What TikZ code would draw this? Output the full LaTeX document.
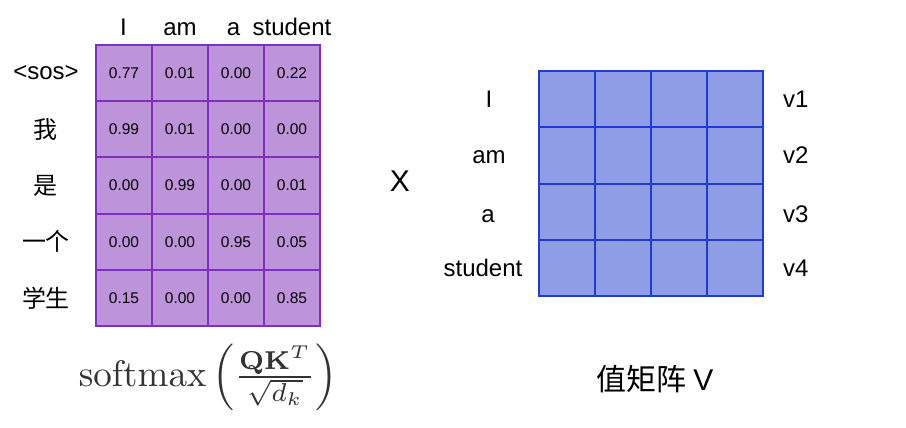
\documentclass[tikz,border=0pt]{standalone}
\usepackage{amsmath}
\usepackage[no-math]{fontspec}
\setmainfont{Liberation Sans}
\newfontfamily\cjkfont{Noto Sans CJK SC}
\usepackage{tikz}
\usetikzlibrary{positioning}
\definecolor{attnfill}{HTML}{BD94DA}
\definecolor{attnline}{HTML}{8030C0}
\definecolor{valfill}{HTML}{8E9DE5}
\definecolor{valline}{HTML}{1F3BD6}
\definecolor{formgray}{HTML}{333333}

\begin{document}
\begin{tikzpicture}[x=1pt,y=-1pt,
	attcell/.style={draw=attnline, fill=attnfill, line width=2pt, minimum width=56pt, minimum height=56.2pt, inner sep=0pt,
		font=\fontsize{15.5}{18}\selectfont},
	valcell/.style={draw=valline, fill=valfill, line width=2pt, minimum width=56pt, minimum height=56.25pt, inner sep=0pt},
	word/.style={inner sep=0pt, font=\fontsize{24}{28}\selectfont}]
	\useasboundingbox (0,0) rectangle (906,428);
	
	\begin{scope}[shift={(96,45)}] %attention weights
	\foreach \r/\vals in {0/{0.77,0.01,0.00,0.22},1/{0.99,0.01,0.00,0.00},2/{0.00,0.99,0.00,0.01},
		3/{0.00,0.00,0.95,0.05},4/{0.15,0.00,0.00,0.85}}
	\foreach \v [count=\c from 0] in \vals
	\node[attcell] (att-\r-\c) at (28+56*\c,28.1+56.2*\r) {\v};
	%rows: target words
	\foreach \r/\w in {0/{<sos>},1/{\cjkfont 我},2/{\cjkfont 是},3/{\cjkfont 一个},4/{\cjkfont 学生}}
	\node[word] (tgt-\r) at (-50,28.1+56.2*\r) {\w};
	\end{scope}
	%columns: source words
	\node[word, anchor=base] (src-0) at (123.5,36) {I};
	\node[word, anchor=base] (src-1) at (180,36) {am};
	\node[word, anchor=base] (src-2) at (233.5,36) {a};
	\node[word, anchor=base] (src-3) at (292,36) {student};
	
	\node[formgray, inner sep=0pt, scale=3.7] (softmax) at (208,377)
	{$\mathrm{softmax}\left(\frac{\mathbf{QK}^T}{\sqrt{d_k}}\right)$};
	
	\node[inner sep=0pt, font=\fontsize{30}{34}\selectfont] (times) at (400,181) {X};
	
	\begin{scope}[shift={(539,71)}] %value matrix
	\foreach \r in {0,...,3}
	\foreach \c in {0,...,3}
	\node[valcell] (val-\r-\c) at (28+56*\c,28.125+56.25*\r) {};
	\end{scope}
	%keys and value vectors
	\foreach \r/\w/\x/\y in {0/I/489/108,1/am/489/163,2/a/488/222,3/student/483/276}
	\node[word, anchor=base] (key-\r) at (\x,\y) {\w};
	\foreach \r/\y [evaluate=\r as \n using int(\r+1)] in {0/108,1/163,2/222,3/276}
	\node[word, anchor=base west] (vec-\r) at (783,\y) {v\n};
	
	\node[inner sep=0pt, font=\fontsize{30}{34}\selectfont] (vtitle) at (655,379) {\cjkfont 值矩阵 \rmfamily V};
\end{tikzpicture}
\end{document}
